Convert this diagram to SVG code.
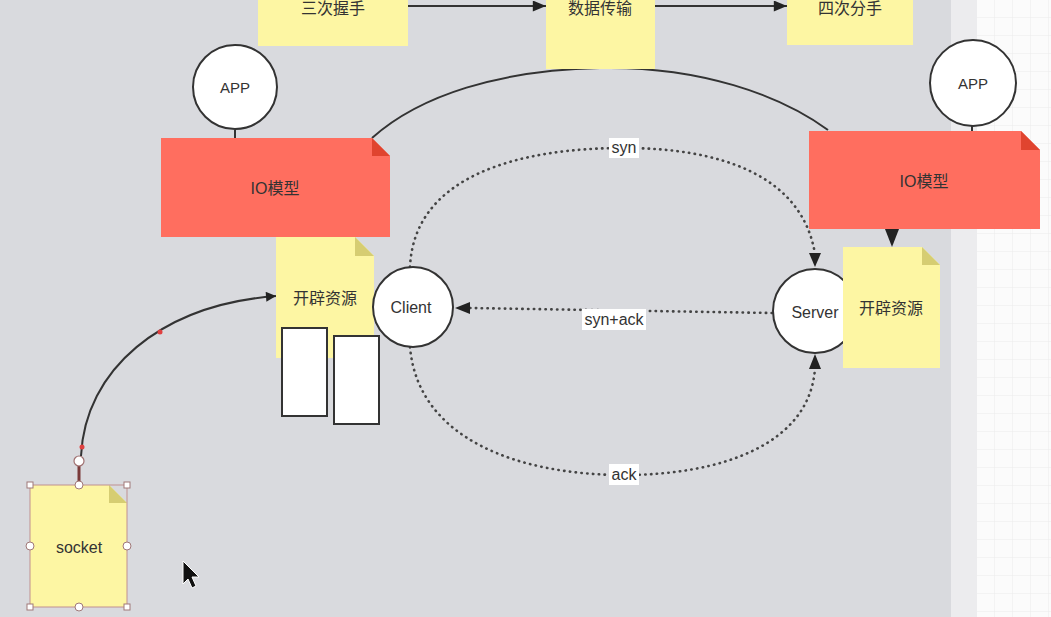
<svg xmlns="http://www.w3.org/2000/svg" width="1051" height="617" viewBox="0 0 1051 617">
<style>
text{font-family:"Liberation Sans","Noto Sans CJK SC",sans-serif;font-size:16px;fill:#333;text-anchor:middle;dominant-baseline:central}
text.l{font-size:15px}
text.e{font-size:16px}
.note{fill:#fdf6a3}
.nfold{fill:#d6cd72}
.io{fill:#ff6e5f}
.iofold{fill:#e0442f}
.circ{fill:#fff;stroke:#333;stroke-width:2}
.solid{fill:none;stroke:#333;stroke-width:2}
.dot{fill:none;stroke:#444;stroke-width:2.6;stroke-dasharray:0.4 5.4;stroke-linecap:round}
.lbl{fill:#fff}
.h{fill:#fff;stroke:#a07878;stroke-width:1}
</style>
<defs>
<pattern id="grid" width="18" height="18" patternUnits="userSpaceOnUse" x="977" y="0">
<path d="M18 0V18M0 18H18" fill="none" stroke="#ebebeb" stroke-width="1"/>
</pattern>
<marker id="arr" viewBox="0 0 10 10" refX="10" refY="5" markerWidth="11" markerHeight="10" markerUnits="userSpaceOnUse" orient="auto">
<path d="M0,0L10,5L0,10z" fill="#222"/>
</marker>
<marker id="arrL" viewBox="0 0 12 10" refX="12" refY="5" markerWidth="14" markerHeight="11" markerUnits="userSpaceOnUse" orient="auto">
<path d="M0,0L12,5L0,10z" fill="#222"/>
</marker>
</defs>
<rect x="0" y="0" width="1051" height="617" fill="#d9dade"/>
<rect x="951" y="0" width="26" height="617" fill="#ececee"/>
<rect x="977" y="0" width="74" height="617" fill="#fbfbfb"/>
<rect x="977" y="0" width="74" height="617" fill="url(#grid)"/>

<g id="connectors">
<path class="solid" d="M408,6H546" marker-end="url(#arrL)"/>
<path class="solid" d="M655,6H787" marker-end="url(#arrL)"/>
<path class="solid" d="M235,130V138"/>
<path class="solid" d="M972,126V131"/>
<path class="solid" d="M372,138C420,95 500,70 600,68C700,66 780,95 828,130"/>
<path d="M885,229H899L892,247Z" fill="#222"/>
<path class="dot" d="M410,267C414,175 520,148 624,148C720,148 802,175 815,254"/>
<path d="M809,253L821,253L815,267Z" fill="#222"/>
<path class="dot" d="M772,313L470,308"/>
<path d="M470,302L470,314L455,308Z" fill="#222"/>
<path class="dot" d="M410,347C418,440 520,475 624,475C720,475 810,445 815,368"/>
<path d="M809,369L821,369L815,354Z" fill="#222"/>
<path class="solid" d="M81,456C85,370 160,305 276,296" marker-end="url(#arr)"/>
<path d="M79,465V485" stroke="#7a3a3a" stroke-width="3"/>
<circle cx="160" cy="332" r="2.5" fill="#e04040"/>
<circle cx="82" cy="447" r="2.5" fill="#e04040"/>
<circle cx="79" cy="461" r="5" fill="#fff" stroke="#a07070" stroke-width="1.2"/>
<rect class="lbl" x="609" y="138" width="30" height="20"/>
<text class="e" x="624" y="147">syn</text>
<rect class="lbl" x="582" y="309" width="64" height="21"/>
<text class="e" x="614" y="319">syn+ack</text>
<rect class="lbl" x="609" y="464" width="30" height="21"/>
<text class="e" x="624" y="474">ack</text>
</g>

<g id="n-sanci">
<rect class="note" x="258" y="-5" width="150" height="51"/>
<text x="333" y="8">三次握手</text>
</g>
<g id="n-shuju">
<rect class="note" x="546" y="-5" width="109" height="74"/>
<text x="600" y="8">数据传输</text>
</g>
<g id="n-sici">
<rect class="note" x="787" y="-5" width="126" height="50"/>
<text x="850" y="8">四次分手</text>
</g>

<g id="app-left">
<circle class="circ" cx="235" cy="87" r="42"/>
<text class="l" x="235" y="87">APP</text>
</g>
<g id="app-right">
<circle class="circ" cx="973" cy="83" r="43"/>
<text class="l" x="973" y="83">APP</text>
</g>

<g id="io-left">
<path class="io" d="M161,138H372L390,156V237H161Z"/>
<path class="iofold" d="M372,138L390,156H372Z"/>
<text x="275" y="188">IO模型</text>
</g>
<g id="io-right">
<path class="io" d="M809,131H1021L1040,150V229H809Z"/>
<path class="iofold" d="M1021,131L1040,150H1021Z"/>
<text x="924" y="181">IO模型</text>
</g>

<g id="res-left">
<path class="note" d="M276,237H355L374,256V358H276Z"/>
<path class="nfold" d="M355,237L374,256H355Z"/>
<text x="325" y="298">开辟资源</text>
</g>
<g id="buf1"><rect x="282" y="328" width="45" height="88" fill="#fff" stroke="#333" stroke-width="2"/></g>
<g id="buf2"><rect x="334" y="336" width="45" height="88" fill="#fff" stroke="#333" stroke-width="2"/></g>

<g id="client">
<circle class="circ" cx="413" cy="307" r="40"/>
<text x="411" y="307">Client</text>
</g>
<g id="server">
<circle class="circ" cx="815" cy="311" r="42"/>
<text x="815" y="312">Server</text>
</g>
<g id="res-right">
<path class="note" d="M843,247H922L940,265V368H843Z"/>
<path class="nfold" d="M922,247L940,265H922Z"/>
<text x="891" y="308">开辟资源</text>
</g>

<g id="socket">
<path class="note" d="M30,485H109L127,503V607H30Z"/>
<path class="nfold" d="M109,485L127,503H109Z"/>
<rect x="30" y="485" width="97" height="122" fill="none" stroke="#c09090" stroke-width="1"/>
<text x="79" y="547">socket</text>
<rect class="h" x="27" y="482" width="6" height="6"/>
<rect class="h" x="124" y="482" width="6" height="6"/>
<rect class="h" x="27" y="604" width="6" height="6"/>
<rect class="h" x="124" y="604" width="6" height="6"/>
<circle class="h" cx="79" cy="485" r="4"/>
<circle class="h" cx="79" cy="607" r="4"/>
<circle class="h" cx="30" cy="546" r="4"/>
<circle class="h" cx="127" cy="546" r="4"/>
</g>

<path d="M183,561L183,584L188,579L192,588L196,586L192,577L199,577Z" fill="#111" stroke="#fff" stroke-width="1"/>
</svg>
